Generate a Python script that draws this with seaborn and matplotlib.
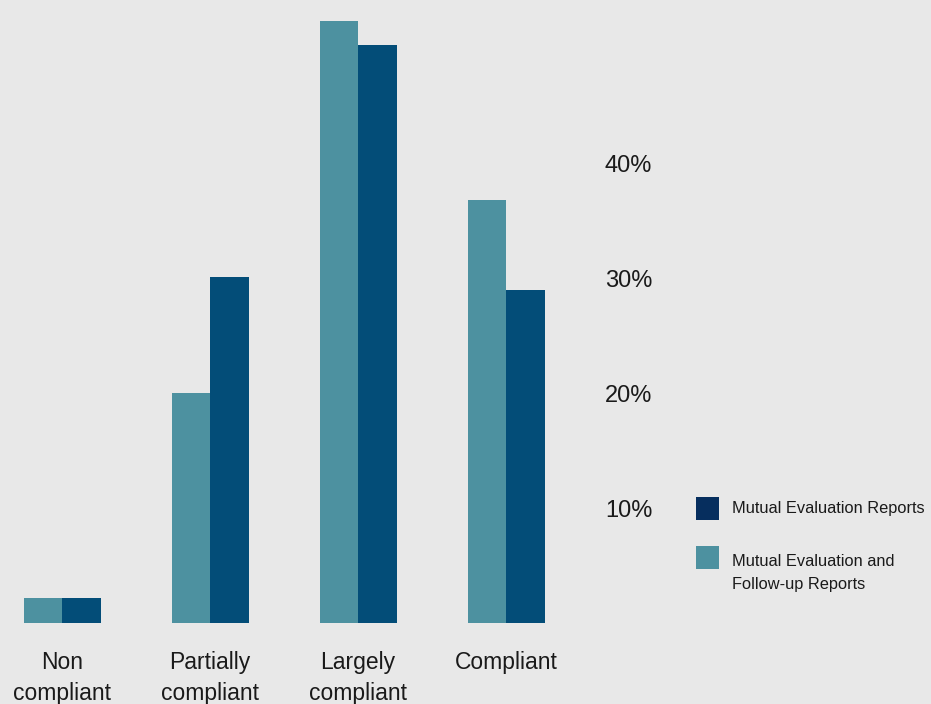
import matplotlib
matplotlib.use("Agg")
import matplotlib.pyplot as plt
import seaborn as sns
import pandas as pd
from matplotlib.patches import Rectangle

categories = ["Non\ncompliant", "Partially\ncompliant", "Largely\ncompliant", "Compliant"]
series_names = ["Mutual Evaluation and\nFollow-up Reports", "Mutual Evaluation Reports"]
followup_values = [2.2, 20.0, 52.4, 36.8]
mer_values = [2.2, 30.1, 50.3, 29.0]
ytick_values = [10, 20, 30, 40]
ytick_labels = ["10%", "20%", "30%", "40%"]

colors = ["#4d91a0", "#034d78"]
legend_colors = ["#4d91a0", "#062e5e"]
bg = "#e8e8e8"

sns.set_theme(style="white")
plt.rcParams["font.family"] = ["Liberation Sans Narrow", "Liberation Sans", "DejaVu Sans"]

df = pd.DataFrame({
    "category": categories * 2,
    "series": [series_names[0]] * 4 + [series_names[1]] * 4,
    "value": followup_values + mer_values,
})

W, H = 931, 704
fig = plt.figure(figsize=(W / 100, H / 100), dpi=100, facecolor=bg)
ax = fig.add_axes([0, (H - 623) / H, 598 / W, 623 / H])
ax.set_facecolor(bg)

sns.barplot(data=df, x="category", y="value", hue="series", hue_order=series_names,
            order=categories, palette=colors, width=0.52, gap=0, saturation=1,
            linewidth=0, ax=ax, legend=False)

ax.set_xlim(-0.419, 3.62)
ax.set_ylim(0, 54.2)
for s in ax.spines.values():
    s.set_visible(False)
ax.yaxis.tick_right()
ax.set_yticks(ytick_values)
ax.set_yticklabels(ytick_labels)
ax.tick_params(axis="y", length=0, pad=5, labelsize=17, labelcolor="#1a1a1a")
ax.tick_params(axis="x", length=0, pad=20, labelsize=16.5, labelcolor="#1a1a1a")
for lab in ax.get_xticklabels():
    lab.set_linespacing(1.45)
ax.set_xlabel("")
ax.set_ylabel("")
ax.grid(False)

# custom legend
leg_items = [
    (series_names[1], legend_colors[1], 497, 509),
    (series_names[0], legend_colors[0], 546, 573),
]
for name, col, ytop, ytext in leg_items:
    fig.patches.append(Rectangle((696 / W, 1 - (ytop + 23) / H), 23 / W, 23 / H,
                                 transform=fig.transFigure, facecolor=col,
                                 edgecolor="none"))
    fig.text(732 / W, 1 - ytext / H, name, ha="left", va="center",
             fontsize=11.8, color="#1a1a1a", linespacing=1.7)

fig.savefig("out.png", dpi=100, facecolor=bg)
